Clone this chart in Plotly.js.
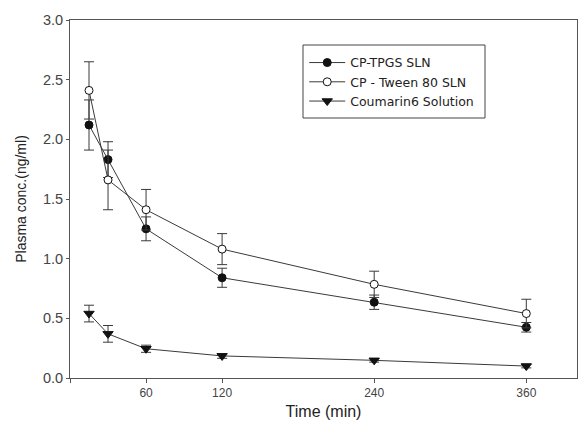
<!DOCTYPE html>
<html><head><meta charset="utf-8">
<script src="https://cdn.plot.ly/plotly-3.0.1.min.js"></script>
<style>html,body{margin:0;padding:0;background:#fff}#chart{width:580px;height:421px}</style>
</head><body><div id="chart"></div>
<script>
const time = [15, 30, 60, 120, 240, 360];
const tpgs = [2.12, 1.83, 1.25, 0.84, 0.635, 0.425];
const tpgsErr = [0.21, 0.15, 0.10, 0.08, 0.06, 0.04];
const tween = [2.41, 1.66, 1.41, 1.08, 0.785, 0.54];
const tweenErr = [0.24, 0.25, 0.17, 0.13, 0.11, 0.12];
const cou = [0.54, 0.37, 0.245, 0.185, 0.148, 0.10];
const couErr = [0.07, 0.07, 0.03, 0.02, 0.015, 0.015];
const xTicks = [0, 60, 120, 240, 360];
const xTickText = ['', '60', '120', '240', '360'];
const yTicks = [0, 0.5, 1.0, 1.5, 2.0, 2.5, 3.0];

const lineC = '#3a3a3a';
function tr(name, y, e, sym, fill) {
  return {
    x: time, y: y, name: name, type: 'scatter', mode: 'lines+markers',
    line: {color: lineC, width: 1},
    marker: {symbol: sym, size: sym === 'triangle-down' ? 9 : 8, color: fill,
             line: {color: '#111', width: 1}},
    error_y: {type: 'data', array: e, visible: true, color: lineC, thickness: 1, width: 5}
  };
}
const data = [
  tr('CP-TPGS SLN', tpgs, tpgsErr, 'circle', '#111'),
  tr('CP - Tween 80 SLN', tween, tweenErr, 'circle', '#fff'),
  tr('Coumarin6 Solution', cou, couErr, 'triangle-down', '#111')
];
const layout = {
  width: 580, height: 421,
  margin: {l: 70, r: 3, t: 20, b: 43},
  paper_bgcolor: '#fff', plot_bgcolor: '#fff',
  font: {family: 'Liberation Sans, Arial, sans-serif', color: '#333', size: 11},
  showlegend: true,
  legend: {x: 0.462, y: 0.922, xanchor: 'left', yanchor: 'top',
           borderwidth: 0, bgcolor: 'rgba(0,0,0,0)',
           font: {family: 'DejaVu Sans, sans-serif', size: 12.5, color: '#222'},
           tracegroupgap: 0, itemwidth: 36},
  shapes: [{type: 'rect', xref: 'paper', yref: 'paper',
            x0: (303 - 70) / 507, x1: (485 - 70) / 507,
            y0: (378 - 118) / 358, y1: (378 - 45) / 358,
            line: {color: '#444', width: 1}, fillcolor: 'rgba(0,0,0,0)', layer: 'below'}],
  xaxis: {
    range: [0, 400], tickvals: xTicks, ticktext: xTickText,
    showgrid: false, zeroline: false, showline: true, mirror: true,
    linecolor: '#555', linewidth: 1, ticks: 'outside', ticklen: 4, tickcolor: '#555',
    tickfont: {size: 12, color: '#444'},
    title: {text: 'Time (min)', font: {size: 16, color: '#222'}, standoff: 6}
  },
  yaxis: {
    range: [0, 3.0], tickvals: yTicks, tickformat: '.1f',
    showgrid: false, zeroline: false, showline: true, mirror: true,
    linecolor: '#555', linewidth: 1, ticks: 'outside', ticklen: 3, tickcolor: '#555',
    tickfont: {size: 14.5, color: '#444'},
    title: {text: 'Plasma conc.(ng/ml)', font: {size: 14, color: '#222'}, standoff: 13}
  }
};
Plotly.newPlot('chart', data, layout, {staticPlot: true, displayModeBar: false});
</script></body></html>
